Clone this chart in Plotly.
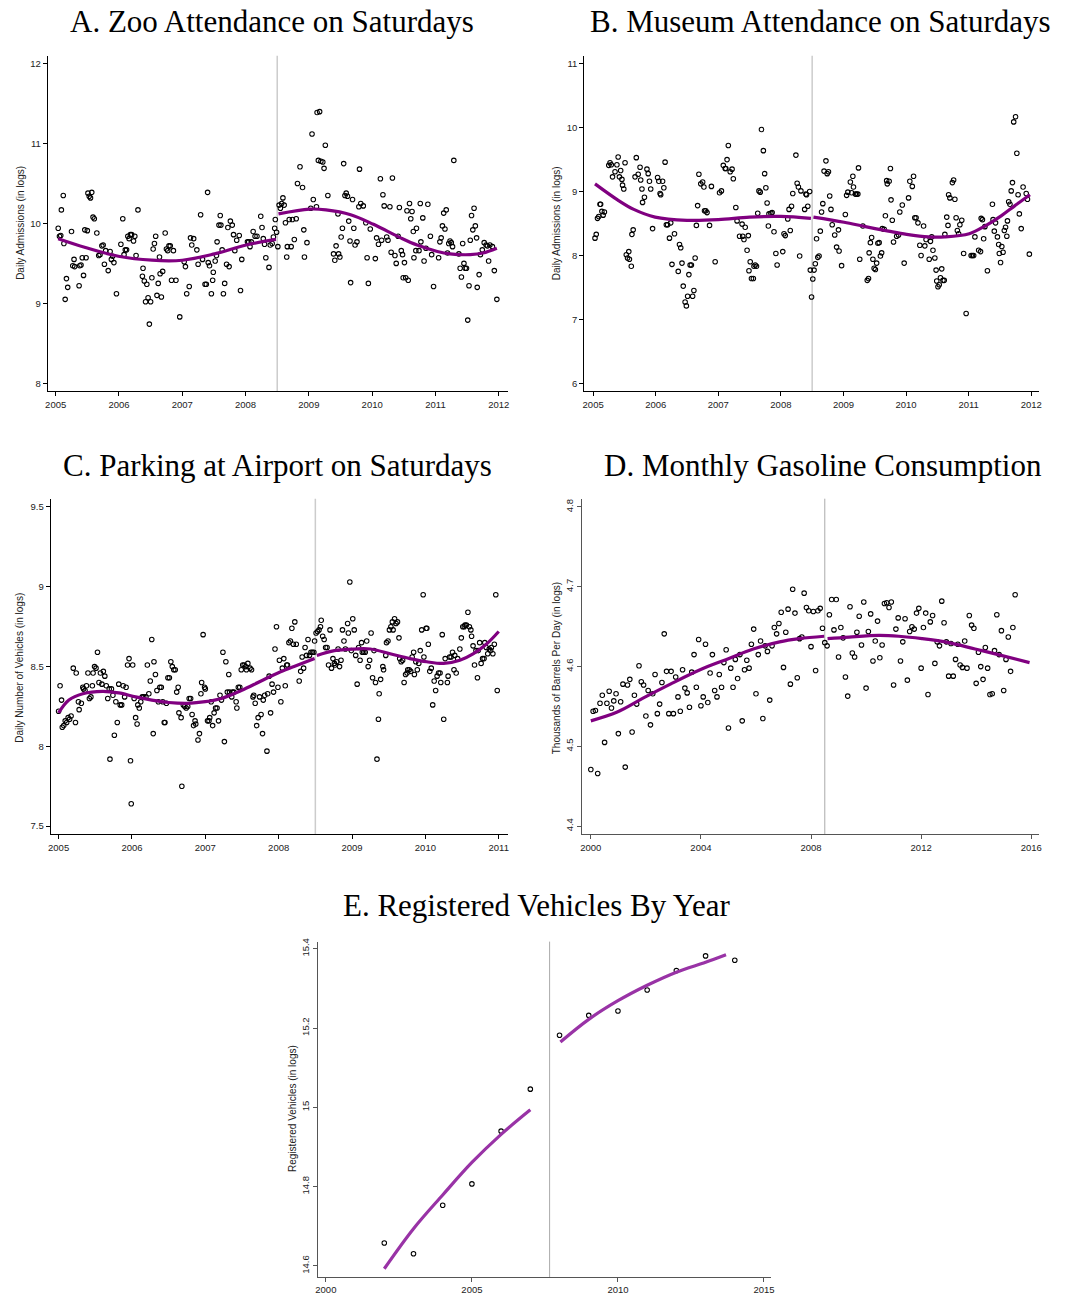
import plotly.graph_objects as go

W, H = 1070, 1295

# ---------------- Panel A: Zoo attendance ----------------
A_X = [2005.04,2005.06,2005.08,2005.09,2005.12,2005.13,2005.15,2005.17,2005.19,2005.25,2005.27,2005.29,2005.30,2005.37,2005.38,2005.40,2005.42,2005.44,2005.46,2005.48,2005.50,2005.51,2005.53,2005.55,2005.57,2005.59,2005.61,2005.65,2005.68,2005.70,2005.73,2005.75,2005.77,2005.79,2005.83,2005.86,2005.88,2005.90,2005.92,2005.96,
2006.03,2006.06,2006.08,2006.10,2006.12,2006.14,2006.16,2006.18,2006.20,2006.23,2006.25,2006.27,2006.30,2006.37,2006.38,2006.40,2006.42,2006.44,2006.46,2006.48,2006.50,2006.52,2006.54,2006.56,2006.58,2006.60,2006.62,2006.64,2006.65,2006.67,2006.69,2006.73,2006.75,2006.77,2006.79,2006.81,2006.83,2006.86,2006.90,2006.96,
2007.03,2007.05,2007.07,2007.11,2007.13,2007.15,2007.18,2007.23,2007.25,2007.29,2007.32,2007.36,2007.38,2007.40,2007.41,2007.43,2007.46,2007.48,2007.49,2007.52,2007.54,2007.55,2007.58,2007.60,2007.61,2007.63,2007.65,2007.67,2007.70,2007.72,2007.74,2007.76,2007.79,2007.81,2007.83,2007.86,2007.90,2007.92,2007.94,
2008.03,2008.05,2008.07,2008.09,2008.12,2008.15,2008.18,2008.24,2008.26,2008.28,2008.30,2008.32,2008.37,2008.39,2008.42,2008.44,2008.46,2008.47,2008.49,
2008.51,2008.53,2008.55,2008.57,2008.59,2008.61,2008.63,2008.65,2008.66,2008.69,2008.72,2008.74,2008.77,2008.80,2008.82,2008.86,2008.90,2008.92,2008.93,2008.97,
2009.03,2009.05,2009.07,2009.12,2009.13,2009.15,2009.17,2009.19,2009.22,2009.24,2009.26,2009.30,2009.39,2009.41,2009.43,2009.46,2009.47,2009.49,2009.51,2009.53,2009.55,2009.57,2009.59,2009.61,2009.63,2009.65,2009.66,2009.69,2009.71,2009.73,2009.76,2009.79,2009.80,2009.82,2009.86,2009.90,2009.92,2009.94,2009.97,
2010.05,2010.07,2010.10,2010.13,2010.15,2010.17,2010.19,2010.23,2010.25,2010.28,2010.30,2010.32,2010.36,2010.38,2010.41,2010.43,2010.46,2010.48,2010.49,2010.51,2010.53,2010.55,2010.57,2010.59,2010.61,2010.63,2010.65,2010.66,2010.69,2010.70,2010.74,2010.76,2010.77,2010.80,2010.82,2010.85,2010.88,2010.92,2010.94,2010.97,
2011.05,2011.07,2011.09,2011.11,2011.13,2011.15,2011.17,2011.19,2011.21,2011.23,2011.25,2011.27,2011.29,2011.37,2011.39,2011.41,2011.43,2011.45,2011.47,2011.49,2011.51,2011.53,2011.55,2011.57,2011.59,2011.61,2011.63,2011.65,2011.66,2011.69,2011.71,2011.74,2011.77,2011.80,2011.82,2011.84,2011.86,2011.90,2011.93,2011.97]
A_Y = [9.94,9.84,9.85,10.17,10.35,9.75,9.05,9.31,9.20,9.90,9.47,9.55,9.46,9.22,9.47,9.48,9.57,9.35,9.92,9.57,9.91,10.38,10.34,10.32,10.39,10.08,10.06,9.88,9.60,9.61,9.72,9.73,9.49,9.66,9.41,9.65,9.55,9.59,9.51,9.12,
9.74,10.06,9.61,9.67,9.67,9.84,9.81,9.86,9.86,9.78,9.84,9.60,10.17,9.34,9.44,9.28,9.02,9.24,9.07,8.74,9.02,9.32,9.68,9.75,9.84,9.10,9.25,9.58,9.37,9.08,9.40,9.88,9.68,9.66,9.72,9.72,9.29,9.66,9.29,8.83,
9.52,9.46,9.12,9.21,9.82,9.73,9.81,9.67,9.49,10.11,9.55,9.24,9.24,10.39,9.51,9.47,9.12,9.29,9.39,9.53,9.60,9.77,9.98,10.10,9.98,9.67,9.12,9.25,9.49,9.95,9.46,10.03,9.98,9.86,9.66,9.79,9.85,9.16,9.55,
9.77,9.77,9.71,9.77,9.90,9.84,9.84,10.09,9.95,9.81,9.74,9.57,9.45,9.73,9.75,9.83,9.94,10.05,9.89,
9.71,10.23,10.19,10.25,10.32,10.23,10.01,9.58,9.71,10.05,9.71,10.05,9.80,10.06,10.50,10.71,10.45,9.92,9.58,9.76,
10.19,11.12,10.30,10.21,11.39,10.79,11.40,10.78,10.77,10.69,10.98,10.35,9.62,9.54,9.72,10.12,9.62,9.58,9.83,9.94,10.75,10.35,10.38,10.34,10.03,9.78,9.26,10.30,9.94,9.73,9.77,10.21,10.68,10.25,10.22,10.01,9.57,9.25,9.93,
9.56,9.82,9.74,10.56,9.79,10.36,10.22,9.83,9.79,10.21,9.64,10.57,9.60,9.50,9.84,10.20,9.66,9.61,9.32,9.51,9.32,10.16,9.29,10.25,10.06,10.15,9.90,9.57,9.66,9.94,9.66,10.25,9.77,10.07,9.53,9.69,10.24,9.84,9.61,9.21,
9.57,9.77,9.82,9.97,10.13,9.93,10.17,9.63,9.75,9.78,9.76,9.71,10.79,9.62,9.44,9.33,9.75,9.50,9.44,9.44,8.79,9.22,9.79,10.10,9.92,10.19,9.97,9.82,9.20,9.36,9.61,9.67,9.76,9.73,9.72,9.53,9.73,9.71,9.41,9.05]
A_FIT_PRE_X = [2005.04,2005.47,2005.99,2006.52,2007.00,2007.51,2008.01,2008.48]
A_FIT_PRE_Y = [9.81,9.70,9.59,9.54,9.54,9.62,9.73,9.80]
A_FIT_POST_X = [2008.52,2009.01,2009.27,2009.66,2010.02,2010.45,2010.71,2011.03,2011.23,2011.55,2011.75,2011.97]
A_FIT_POST_Y = [10.12,10.18,10.17,10.11,9.99,9.82,9.73,9.65,9.62,9.61,9.63,9.69]

# ---------------- Panel B: Museum attendance ----------------
B_X = [2005.03,2005.05,2005.07,2005.09,2005.11,2005.12,2005.14,2005.16,2005.18,2005.25,2005.27,2005.29,2005.31,2005.35,2005.38,2005.40,2005.42,2005.44,2005.46,2005.47,2005.49,2005.51,2005.53,2005.55,2005.57,2005.58,2005.61,2005.62,2005.64,2005.67,2005.69,2005.72,2005.75,2005.76,2005.78,2005.79,2005.82,2005.86,2005.88,2005.90,2005.92,2005.95,
2006.03,2006.05,2006.07,2006.08,2006.11,2006.13,2006.15,2006.17,2006.19,2006.22,2006.24,2006.26,2006.30,2006.36,2006.38,2006.40,2006.42,2006.44,2006.47,2006.49,2006.51,2006.53,2006.55,2006.57,2006.59,2006.61,2006.63,2006.65,2006.67,2006.69,2006.72,2006.75,2006.77,2006.78,2006.80,2006.82,2006.86,2006.89,2006.95,
2007.02,2007.05,2007.08,2007.11,2007.12,2007.14,2007.16,2007.19,2007.22,2007.24,2007.28,2007.30,2007.34,2007.38,2007.39,2007.41,2007.43,2007.46,2007.48,2007.49,2007.51,2007.53,2007.56,2007.57,2007.59,2007.61,2007.63,2007.65,2007.67,2007.69,2007.72,2007.74,2007.76,2007.78,2007.80,2007.81,2007.84,2007.86,2007.89,2007.92,2007.94,
2008.03,2008.05,2008.07,2008.11,2008.13,2008.15,2008.17,2008.19,2008.24,2008.26,2008.28,2008.30,2008.32,2008.38,2008.40,2008.41,2008.43,2008.46,2008.47,2008.49,
2008.51,2008.53,2008.55,2008.57,2008.59,2008.61,2008.63,2008.65,2008.67,2008.69,2008.72,2008.74,2008.76,2008.78,2008.80,2008.82,2008.86,2008.89,2008.92,2008.93,2008.97,
2009.03,2009.05,2009.07,2009.11,2009.13,2009.15,2009.16,2009.19,2009.21,2009.23,2009.24,2009.26,2009.31,2009.38,2009.40,2009.41,2009.43,2009.45,2009.47,2009.49,2009.51,2009.53,2009.55,2009.57,2009.59,2009.61,2009.62,2009.65,2009.67,2009.69,2009.70,2009.73,2009.75,2009.76,2009.78,2009.80,2009.85,2009.88,2009.90,2009.94,2009.97,
2010.04,2010.06,2010.10,2010.12,2010.14,2010.16,2010.19,2010.22,2010.24,2010.28,2010.30,2010.32,2010.37,2010.39,2010.41,2010.43,2010.46,2010.48,2010.49,2010.51,2010.53,2010.55,2010.57,2010.59,2010.61,2010.62,2010.65,2010.67,2010.68,2010.70,2010.74,2010.76,2010.78,2010.80,2010.82,2010.84,2010.86,2010.89,2010.92,2010.96,
2011.04,2011.06,2011.08,2011.10,2011.16,2011.19,2011.20,2011.22,2011.24,2011.26,2011.30,2011.38,2011.39,2011.41,2011.43,2011.46,2011.48,2011.49,2011.51,2011.53,2011.55,2011.57,2011.59,2011.61,2011.62,2011.64,2011.66,2011.68,2011.70,2011.72,2011.75,2011.77,2011.79,2011.81,2011.84,2011.87,2011.92,2011.94,2011.97]
B_Y = [8.27,8.33,8.58,8.61,8.80,8.80,8.69,8.63,8.68,9.41,9.45,9.42,9.23,9.31,9.42,9.54,9.23,9.33,9.19,9.10,9.04,9.45,8.01,7.96,8.06,7.94,7.83,8.33,8.40,9.23,9.53,9.27,9.38,9.18,9.04,8.83,8.91,9.35,9.28,9.16,9.04,8.42,
9.22,9.16,8.97,8.95,9.16,9.06,9.46,8.48,8.48,8.27,8.51,7.86,8.34,7.75,8.17,8.12,7.88,7.52,7.27,7.21,7.36,7.70,7.85,7.85,7.36,7.45,7.96,8.47,8.78,9.27,9.12,9.15,9.07,8.70,8.70,8.67,8.47,9.08,7.90,
8.98,9.01,9.41,9.36,9.36,9.50,9.72,9.31,9.35,9.20,8.75,8.54,8.30,8.49,8.30,8.25,8.44,8.08,8.31,7.76,7.90,7.64,7.64,7.83,7.85,7.83,8.66,9.01,8.99,9.97,9.64,9.28,9.06,8.82,8.46,8.65,8.66,8.67,8.37,8.03,7.85,
8.06,8.34,8.31,8.57,8.72,8.39,8.77,8.97,9.57,9.13,9.07,7.99,9.01,8.72,8.96,8.95,8.77,9.00,7.77,7.35,
7.63,7.77,7.87,8.26,7.97,7.99,8.38,8.68,8.81,9.32,9.48,9.28,9.31,8.93,8.72,8.48,8.32,8.13,8.40,8.07,7.84,
8.64,8.94,8.99,9.15,8.98,9.24,9.07,8.96,8.96,8.96,9.37,7.94,8.46,7.61,7.64,8.04,8.20,8.28,7.94,7.80,7.78,7.88,8.19,8.20,7.99,8.04,8.42,8.41,8.62,9.17,9.12,9.16,9.36,8.87,8.55,8.21,8.30,8.32,8.68,8.79,7.88,
8.90,9.16,9.08,9.24,8.59,8.59,8.51,8.16,8.00,8.46,8.15,8.25,7.94,8.22,8.29,8.08,7.96,7.77,7.60,7.51,7.54,7.65,7.79,7.61,7.61,8.33,8.60,8.47,8.95,8.90,9.14,9.18,8.88,8.59,8.39,8.34,8.48,8.55,8.03,7.09,
8.00,8.00,8.00,8.29,8.08,8.06,8.58,8.56,8.26,8.45,7.76,8.80,8.56,8.38,8.51,8.29,8.17,8.03,7.89,8.14,8.05,8.39,8.44,8.30,8.54,8.84,8.80,9.01,9.14,10.09,10.17,9.60,8.95,8.65,8.42,9.07,8.97,8.88,8.02]
B_FIT_PRE_X = [2005.03,2005.39,2005.65,2005.99,2006.50,2007.00,2007.50,2008.00,2008.48]
B_FIT_PRE_Y = [9.12,8.87,8.72,8.60,8.55,8.56,8.60,8.61,8.58]
B_FIT_POST_X = [2008.52,2009.01,2009.35,2009.72,2010.01,2010.36,2010.62,2011.01,2011.26,2011.52,2011.74,2011.98]
B_FIT_POST_Y = [8.60,8.52,8.45,8.38,8.33,8.29,8.29,8.34,8.46,8.62,8.78,8.95]

# ---------------- Panel C: Airport parking ----------------
C_X = [2005.00,2005.02,2005.04,2005.05,2005.07,2005.09,2005.11,2005.13,2005.15,2005.17,2005.20,2005.23,2005.24,2005.27,2005.28,2005.31,2005.33,2005.34,2005.36,2005.38,2005.40,2005.42,2005.44,2005.46,2005.47,2005.49,2005.51,2005.53,2005.55,2005.57,2005.59,2005.61,2005.63,2005.65,2005.67,2005.69,2005.70,2005.72,2005.74,2005.76,2005.78,2005.80,2005.82,2005.84,2005.86,2005.88,2005.90,2005.92,2005.94,2005.96,2005.98,2005.99,
2006.01,2006.03,2006.05,2006.07,2006.08,2006.10,2006.12,2006.14,2006.16,2006.19,2006.21,2006.23,2006.25,2006.27,2006.29,2006.30,2006.32,2006.34,2006.36,2006.38,2006.40,2006.42,2006.44,2006.45,2006.47,2006.49,2006.51,2006.53,2006.55,2006.57,2006.59,2006.61,2006.63,2006.64,2006.67,2006.68,2006.70,2006.72,2006.74,2006.76,2006.78,2006.80,2006.82,2006.84,2006.86,2006.87,2006.90,2006.92,2006.94,2006.95,2006.97,2006.99,
2007.00,2007.03,2007.05,2007.06,2007.08,2007.10,2007.12,2007.14,2007.16,2007.18,2007.20,2007.22,2007.24,2007.26,2007.28,2007.30,2007.32,2007.33,2007.36,2007.37,2007.39,2007.42,2007.43,2007.45,2007.47,2007.49,2007.51,2007.53,2007.55,2007.56,2007.58,2007.61,2007.63,2007.65,2007.66,2007.68,2007.70,2007.72,2007.74,2007.76,2007.78,2007.79,2007.81,2007.84,2007.85,2007.87,2007.89,2007.91,2007.93,2007.95,2007.97,2007.99,
2008.01,2008.03,2008.05,2008.07,2008.09,2008.11,2008.12,2008.14,2008.16,2008.18,2008.20,2008.22,2008.24,2008.28,2008.30,2008.32,2008.34,2008.36,2008.38,2008.40,2008.42,2008.44,2008.46,2008.48,2008.49,
2008.51,2008.53,2008.55,2008.57,2008.58,2008.60,2008.62,2008.64,2008.66,2008.68,2008.70,2008.72,2008.74,2008.76,2008.77,2008.79,2008.81,2008.83,2008.85,2008.87,2008.89,2008.91,2008.94,2008.95,2008.97,2008.99,
2009.01,2009.03,2009.05,2009.07,2009.09,2009.11,2009.13,2009.14,2009.16,2009.18,2009.20,2009.22,2009.24,2009.26,2009.28,2009.30,2009.32,2009.34,2009.36,2009.37,2009.39,2009.42,2009.43,2009.46,2009.47,2009.49,2009.51,2009.53,2009.55,2009.56,2009.58,2009.60,2009.62,2009.64,2009.65,2009.67,2009.69,2009.71,2009.73,2009.75,2009.76,2009.78,2009.80,2009.82,2009.84,2009.85,2009.87,2009.89,2009.91,2009.93,2009.95,2009.97,2009.98,
2010.01,2010.02,2010.04,2010.06,2010.08,2010.10,2010.12,2010.14,2010.16,2010.18,2010.20,2010.21,2010.23,2010.25,2010.27,2010.30,2010.31,2010.33,2010.35,2010.37,2010.39,2010.40,2010.42,2010.44,2010.47,2010.49,2010.51,2010.53,2010.54,2010.56,2010.58,2010.60,2010.62,2010.63,2010.65,2010.67,2010.69,2010.71,2010.72,2010.74,2010.76,2010.78,2010.80,2010.81,2010.83,2010.85,2010.87,2010.89,2010.90,2010.92,2010.94,2010.96,2010.98]
C_Y = [8.22,8.38,8.29,8.12,8.13,8.16,8.15,8.18,8.17,8.19,8.49,8.15,8.46,8.28,8.23,8.27,8.37,8.36,8.35,8.38,8.46,8.30,8.31,8.38,8.46,8.50,8.49,8.59,8.40,8.46,8.39,8.47,8.44,8.38,8.30,8.36,7.92,8.36,8.32,8.07,8.28,8.15,8.39,8.26,8.26,8.38,8.31,8.37,8.51,8.55,7.91,7.64,
8.51,8.30,8.18,8.14,8.26,8.24,8.28,8.31,8.31,8.31,8.51,8.33,8.41,8.67,8.08,8.53,8.45,8.35,8.28,8.37,8.37,8.28,8.15,8.15,8.27,8.43,8.43,8.53,8.50,8.48,8.48,8.34,8.37,8.21,8.18,7.75,8.26,8.25,8.24,8.25,8.30,8.30,8.20,8.13,8.16,8.14,8.04,8.08,8.33,8.40,8.70,8.37,
8.36,8.16,8.16,8.18,8.28,8.13,8.21,8.24,8.24,8.16,8.32,8.29,8.59,8.03,8.53,8.34,8.45,8.34,8.31,8.34,8.34,8.28,8.24,8.37,8.37,8.48,8.51,8.51,8.50,8.48,8.52,8.49,8.48,8.31,8.32,8.27,8.13,8.18,8.31,8.20,8.08,8.29,8.32,7.97,8.33,8.44,8.21,8.39,8.34,8.61,8.75,8.37,
8.54,8.28,8.49,8.55,8.38,8.51,8.51,8.65,8.66,8.74,8.64,8.78,8.64,8.41,8.47,8.56,8.49,8.62,8.57,8.67,8.57,8.59,8.59,8.59,8.66,
8.71,8.72,8.73,8.75,8.79,8.69,8.67,8.62,8.62,8.51,8.73,8.49,8.55,8.52,8.51,8.53,8.61,8.50,8.54,8.73,8.66,8.61,8.77,8.71,9.03,8.60,
8.80,8.73,8.57,8.39,8.62,8.54,8.65,8.59,8.59,8.59,8.66,8.50,8.54,8.71,8.43,8.60,8.40,7.92,8.17,8.33,8.42,8.50,8.48,8.57,8.65,8.66,8.73,8.75,8.78,8.73,8.80,8.77,8.78,8.68,8.55,8.53,8.54,8.40,8.45,8.46,8.48,8.48,8.47,8.56,8.59,8.45,8.53,8.48,8.52,8.60,8.73,8.95,8.56,
8.74,8.74,8.64,8.47,8.49,8.26,8.41,8.35,8.44,8.46,8.46,8.40,8.70,8.17,8.55,8.40,8.44,8.56,8.56,8.59,8.48,8.57,8.46,8.55,8.61,8.68,8.75,8.75,8.76,8.76,8.84,8.75,8.73,8.69,8.63,8.51,8.60,8.43,8.60,8.65,8.52,8.55,8.55,8.65,8.62,8.58,8.61,8.60,8.62,8.58,8.64,8.95,8.35]
C_FIT_PRE_X = [2005.00,2005.14,2005.33,2005.60,2005.82,2006.05,2006.27,2006.50,2006.77,2007.00,2007.22,2007.49,2007.76,2007.99,2008.21,2008.49]
C_FIT_PRE_Y = [8.21,8.29,8.33,8.345,8.335,8.31,8.29,8.275,8.27,8.28,8.30,8.35,8.41,8.46,8.50,8.55]
C_FIT_POST_X = [2008.52,2008.76,2009.03,2009.25,2009.52,2009.79,2010.02,2010.25,2010.47,2010.65,2010.83,2011.00]
C_FIT_POST_Y = [8.57,8.60,8.61,8.61,8.58,8.55,8.53,8.52,8.54,8.58,8.64,8.72]

# ---------------- Panel D: Monthly gasoline (Jan 2000 onward, monthly) ----------------
D_VALUES = [4.471,4.544,4.545,4.466,4.554,4.564,4.505,4.554,4.569,4.548,4.557,4.566,4.516,4.556,4.578,4.474,4.577,4.584,4.518,4.564,4.553,4.601,4.581,4.577,4.538,4.570,4.527,4.566,4.590,4.541,4.553,4.580,4.641,
4.594,4.541,
4.594,4.541,4.587,4.562,4.544,4.596,4.573,4.567,4.549,4.593,4.615,4.574,4.634,4.551,4.562,4.628,4.555,4.592,4.615,4.570,4.562,4.590,4.574,4.605,4.621,4.523,4.598,4.574,4.609,4.585,4.615,4.532,4.596,4.608,4.598,4.628,4.647,4.566,4.615,4.632,4.535,4.626,4.619,4.558,4.626,4.649,4.641,4.654,4.668,4.599,4.643,4.672,4.578,4.697,4.667,4.586,4.635,4.637,4.692,4.674,4.670,4.625,4.669,4.595,4.670,4.673,4.648,
4.630,4.626,4.665,4.684,4.646,4.684,4.612,4.649,4.636,4.587,4.563,4.675,4.617,4.612,4.643,4.663,4.627,4.681,4.573,4.644,4.666,4.607,4.632,4.657,4.611,4.627,4.679,4.680,4.674,4.681,4.577,4.647,4.661,4.607,4.631,4.660,4.583,4.644,4.650,4.647,4.667,4.673,4.598,4.649,4.667,4.565,4.656,4.664,4.604,4.631,4.626,4.682,4.655,4.631,4.588,4.629,4.588,4.609,4.628,4.602,4.599,4.632,4.598,4.664,4.652,4.648,4.579,4.618,4.600,4.584,4.624,4.598,4.565,4.566,4.620,4.665,4.615,4.645,4.570,4.609,4.637,4.594,4.649,4.690]
D_START_YEAR = 2000
D_FIT_PRE_X = [2000.00,2000.96,2001.93,2002.89,2003.97,2004.93,2005.90,2006.86,2007.58,2008.48]
D_FIT_PRE_Y = [4.532,4.543,4.561,4.578,4.596,4.609,4.622,4.631,4.635,4.638]
D_FIT_POST_X = [2008.60,2009.39,2010.47,2011.19,2012.03,2013.00,2013.96,2014.80,2015.94]
D_FIT_POST_Y = [4.635,4.637,4.639,4.638,4.635,4.630,4.622,4.615,4.605]

# ---------------- Panel E: Registered vehicles ----------------
E_YEARS = [2002,2003,2004,2005,2006,2007,2008,2009,2010,2011,2012,2013,2014]
E_VALUES = [14.658,14.631,14.753,14.807,14.940,15.046,15.182,15.232,15.243,15.296,15.345,15.382,15.371]
E_FIT_PRE_X = [2002.0,2003.0,2004.0,2005.0,2006.0,2007.0]
E_FIT_PRE_Y = [14.593,14.694,14.779,14.861,14.932,14.994]
E_FIT_POST_X = [2008.03,2009.0,2010.0,2011.0,2012.0,2013.0,2013.7]
E_FIT_POST_Y = [15.165,15.222,15.269,15.308,15.341,15.366,15.385]

CUTOFF_ABCD = 2008.5
CUTOFF_E = 2007.66

TITLES = ["A. Zoo Attendance on Saturdays", "B. Museum Attendance on Saturdays",
          "C. Parking at Airport on Saturdays", "D. Monthly Gasoline Consumption",
          "E. Registered Vehicles By Year"]
YTITLES = ["Daily Admissions (in logs)", "Daily Admissions (in logs)",
           "Daily Number of Vehicles (in logs)", "Thousands of Barrels Per Day (in logs)",
           "Registered Vehicles (in logs)"]

A_XTICKS = [2005,2006,2007,2008,2009,2010,2011,2012]
A_YTICKS = [8,9,10,11,12]
B_YTICKS = [6,7,8,9,10,11]
C_XTICKS = [2005,2006,2007,2008,2009,2010,2011]
C_YTICKS = [7.5,8,8.5,9,9.5]
D_XTICKS = [2000,2004,2008,2012,2016]
D_YTICKS = [4.4,4.5,4.6,4.7,4.8]
E_XTICKS = [2000,2005,2010,2015]
E_YTICKS = [14.6,14.8,15,15.2,15.4]

D_X = [D_START_YEAR + i / 12 for i in range(len(D_VALUES))]

# ---------------- layout geometry (pixels) ----------------
def px_x(p):
    return p / W

def px_y(p):
    return 1 - p / H

panels = [
    dict(xd=(45, 508), yd=(52, 389), xr=[2004.874, 2012.141], yr=[7.9, 12.1], xt=A_XTICKS, yt=A_YTICKS, rot=False, ac="#000000"),
    dict(xd=(585, 1043), yd=(52, 389), xr=[2004.857, 2012.127], yr=[5.875, 11.125], xt=A_XTICKS, yt=B_YTICKS, rot=False, ac="#000000"),
    dict(xd=(48, 508), yd=(497, 834), xr=[2004.892, 2011.122], yr=[7.45, 9.552], xt=C_XTICKS, yt=C_YTICKS, rot=False, ac="#000000"),
    dict(xd=(583, 1043), yd=(497, 834), xr=[1999.686, 2016.289], yr=[4.39, 4.8104], xt=D_XTICKS, yt=D_YTICKS, rot=True, ac="#555555"),
    dict(xd=(317, 773), yd=(942, 1279), xr=[1999.728, 2015.238], yr=[14.572, 15.418], xt=E_XTICKS, yt=E_YTICKS, rot=True, ac="#555555"),
]

def fmt(v):
    return "%g" % v

fig = go.Figure()
layout = dict(width=W, height=H, margin=dict(l=0, r=0, t=0, b=0),
              paper_bgcolor="white", plot_bgcolor="white", showlegend=False)

for i, p in enumerate(panels):
    n = "" if i == 0 else str(i + 1)
    layout["xaxis" + n] = dict(
        domain=[px_x(p["xd"][0]), px_x(p["xd"][1])], range=p["xr"], anchor="y" + n,
        showgrid=False, zeroline=False, showline=True, linecolor=p["ac"], linewidth=1,
        ticks="outside", ticklen=4, tickcolor=p["ac"], tickwidth=1,
        tickvals=p["xt"], ticktext=[fmt(v) for v in p["xt"]],
        tickfont=dict(family="Liberation Sans", size=9.5, color="#222222"), fixedrange=True)
    layout["yaxis" + n] = dict(
        domain=[px_y(p["yd"][1]), px_y(p["yd"][0])], range=p["yr"], anchor="x" + n,
        showgrid=False, zeroline=False, showline=True, linecolor=p["ac"], linewidth=1,
        ticks="outside", ticklen=4, tickcolor=p["ac"], tickwidth=1,
        tickvals=p["yt"], ticktext=[fmt(v) for v in p["yt"]],
        tickangle=-90 if p["rot"] else 0,
        tickfont=dict(family="Liberation Sans", size=9.5, color="#222222"), fixedrange=True)

fig.update_layout(**layout)

PURPLE = "#800080"
PURPLE_E = "#9933a6"

def add_panel(idx, sx, sy, fits, color):
    n = "" if idx == 0 else str(idx + 1)
    xa, ya = "x" + n, "y" + n
    fig.add_trace(go.Scatter(x=sx, y=sy, mode="markers", xaxis=xa, yaxis=ya,
                             marker=dict(symbol="circle-open", size=4.5, color="black",
                                         line=dict(width=1.1, color="black"))))
    for fx, fy in fits:
        fig.add_trace(go.Scatter(x=fx, y=fy, mode="lines", xaxis=xa, yaxis=ya,
                                 line=dict(color=color, width=3.2, shape="spline", smoothing=1.0)))

add_panel(0, A_X, A_Y, [(A_FIT_PRE_X, A_FIT_PRE_Y), (A_FIT_POST_X, A_FIT_POST_Y)], PURPLE)
add_panel(1, B_X, B_Y, [(B_FIT_PRE_X, B_FIT_PRE_Y), (B_FIT_POST_X, B_FIT_POST_Y)], PURPLE)
add_panel(2, C_X, C_Y, [(C_FIT_PRE_X, C_FIT_PRE_Y), (C_FIT_POST_X, C_FIT_POST_Y)], PURPLE)
add_panel(3, D_X, D_VALUES, [(D_FIT_PRE_X, D_FIT_PRE_Y), (D_FIT_POST_X, D_FIT_POST_Y)], PURPLE)
add_panel(4, E_YEARS, E_VALUES, [(E_FIT_PRE_X, E_FIT_PRE_Y), (E_FIT_POST_X, E_FIT_POST_Y)], PURPLE_E)

shapes = []
for i in range(5):
    n = "" if i == 0 else str(i + 1)
    cut = CUTOFF_E if i == 4 else CUTOFF_ABCD
    col = "#cccccc" if i < 3 else "#aaaaaa"
    wid = 1.5 if i < 3 else 1
    shapes.append(dict(type="line", xref="x" + n, yref="y" + n + " domain", x0=cut, x1=cut,
                       y0=0, y1=1, line=dict(color=col, width=wid), layer="below"))
fig.update_layout(shapes=shapes)

title_pos = [(271, 18), (823, 18), (276, 464), (825, 464), (538, 906)]
ann = []
for t, (cx, cy) in zip(TITLES, title_pos):
    ann.append(dict(text=t, x=px_x(cx), y=px_y(cy), xref="paper", yref="paper",
                    xanchor="center", yanchor="middle", showarrow=False,
                    font=dict(family="Liberation Serif", size=31, color="black")))
ytitle_pos = [(18, 220), (558, 220), (17, 667), (558, 667), (292, 1110)]
for t, (cx, cy) in zip(YTITLES, ytitle_pos):
    ann.append(dict(text=t, x=px_x(cx), y=px_y(cy), xref="paper", yref="paper",
                    xanchor="center", yanchor="middle", showarrow=False, textangle=-90,
                    font=dict(family="Liberation Sans", size=10, color="#222222")))
fig.update_layout(annotations=ann)

fig.write_html("out.html")
